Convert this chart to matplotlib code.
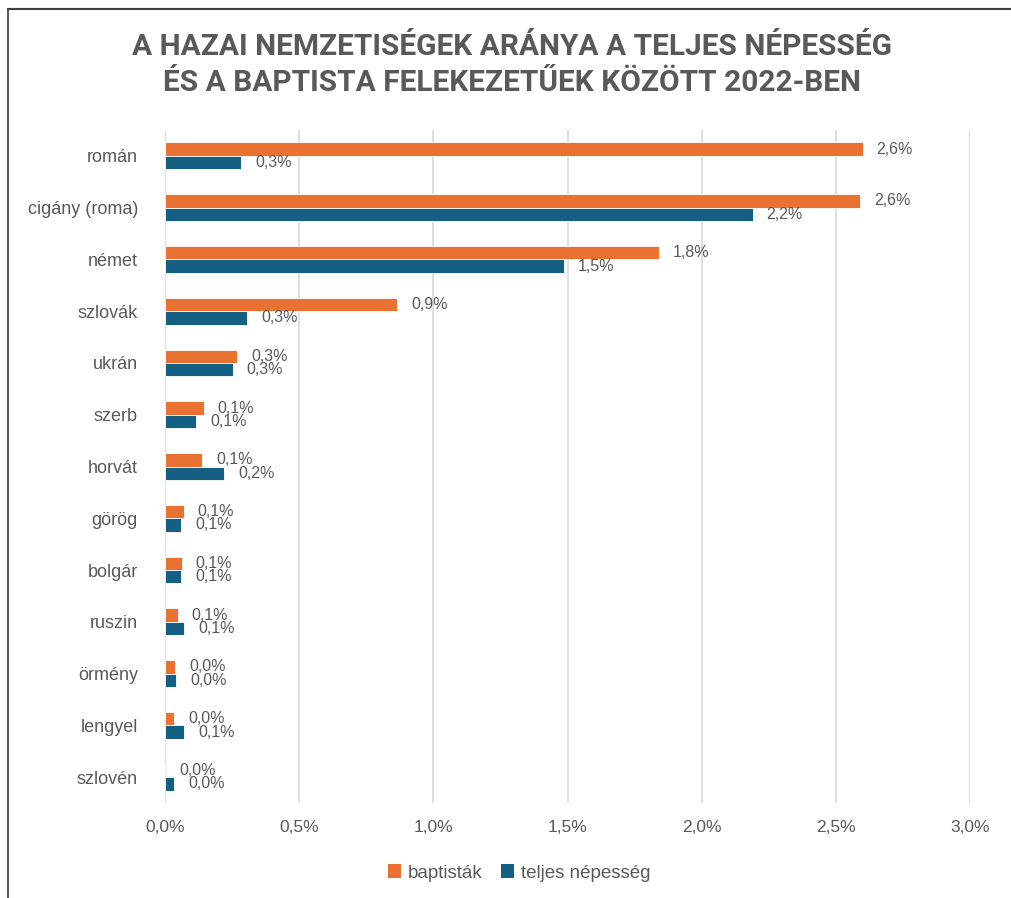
import matplotlib
matplotlib.use("Agg")
import matplotlib.pyplot as plt
from matplotlib.lines import Line2D
from matplotlib.patches import Patch
import numpy as np

categories = ["román", "cigány (roma)", "német", "szlovák", "ukrán", "szerb", "horvát",
              "görög", "bolgár", "ruszin", "örmény", "lengyel", "szlovén"]
baptistak = [2.60, 2.59, 1.84, 0.865, 0.27, 0.145, 0.138, 0.07, 0.063, 0.048, 0.037, 0.034, 0.002]
teljes = [0.283, 2.19, 1.487, 0.306, 0.253, 0.116, 0.22, 0.06, 0.06, 0.071, 0.041, 0.071, 0.034]
labels_b = ["2,6%", "2,6%", "1,8%", "0,9%", "0,3%", "0,1%", "0,1%", "0,1%", "0,1%", "0,1%", "0,0%", "0,0%", "0,0%"]
labels_t = ["0,3%", "2,2%", "1,5%", "0,3%", "0,3%", "0,1%", "0,2%", "0,1%", "0,1%", "0,1%", "0,0%", "0,1%", "0,0%"]
xticks = [0, 0.5, 1.0, 1.5, 2.0, 2.5, 3.0]
xtick_labels = ["0,0%", "0,5%", "1,0%", "1,5%", "2,0%", "2,5%", "3,0%"]
title_lines = ["A HAZAI NEMZETISÉGEK ARÁNYA A TELJES NÉPESSÉG",
               "ÉS A BAPTISTA FELEKEZETŰEK KÖZÖTT 2022-BEN"]

orange = "#E97132"
blue = "#156082"
gray = "#595959"

W, H = 1011, 898
fig = plt.figure(figsize=(W / 100, H / 100), dpi=100)
ax = fig.add_axes([165 / W, 1 - 803 / H, (970 - 165) / W, (803 - 130) / H])

y = np.arange(len(categories))
bh = 0.26
ax.barh(y - bh / 2, baptistak, height=bh, color=orange, edgecolor="white", linewidth=0.6, zorder=3)
ax.barh(y + bh / 2, teljes, height=bh, color=blue, edgecolor="white", linewidth=0.6, zorder=3)

off = 14 / 269
for i in range(len(categories)):
    ax.text(baptistak[i] + off, y[i] - bh / 2, labels_b[i], va="center", ha="left",
            fontsize=11.5, color=gray, family="Liberation Sans", zorder=4)
    ax.text(teljes[i] + off, y[i] + bh / 2, labels_t[i], va="center", ha="left",
            fontsize=11.5, color=gray, family="Liberation Sans", zorder=4)

ax.set_xlim(0, 3.0)
ax.set_ylim(len(categories) - 0.5, -0.5)
ax.set_xticks(xticks)
ax.set_xticklabels(xtick_labels, fontsize=12.5, color=gray, family="Liberation Sans")
ax.set_yticks(y)
ax.set_yticklabels(categories, fontsize=13, color=gray, family="Liberation Sans")
ax.tick_params(axis="x", length=0, pad=12.5)
ax.tick_params(axis="y", length=0, pad=19.5)
ax.xaxis.grid(True, color="#D9D9D9", linewidth=1.2, zorder=0)
ax.set_axisbelow(True)
for s in ax.spines.values():
    s.set_visible(False)

fig.text(512 / W, 1 - 47 / H, title_lines[0], ha="center", va="center",
         fontsize=21.5, fontweight="bold", color=gray, family="Roboto")
fig.text(512 / W, 1 - 83 / H, title_lines[1], ha="center", va="center",
         fontsize=21.5, fontweight="bold", color=gray, family="Roboto")

handles = [Patch(facecolor=orange, label="baptisták"), Patch(facecolor=blue, label="teljes népesség")]
fig.legend(handles=handles, loc="center", bbox_to_anchor=(519 / W, 1 - 873 / H), ncol=2,
           frameon=False, handlelength=0.7, handleheight=0.7, handletextpad=0.35,
           columnspacing=1.0, prop={"family": "Liberation Sans", "size": 13.5}, labelcolor=gray)

fig.add_artist(Line2D([8 / W, 1], [1 - 9 / H, 1 - 9 / H], transform=fig.transFigure, color="#404040", linewidth=1.5))
fig.add_artist(Line2D([8 / W, 8 / W], [0, 1 - 9 / H], transform=fig.transFigure, color="#404040", linewidth=1.2))

fig.savefig("out.png", dpi=100)
